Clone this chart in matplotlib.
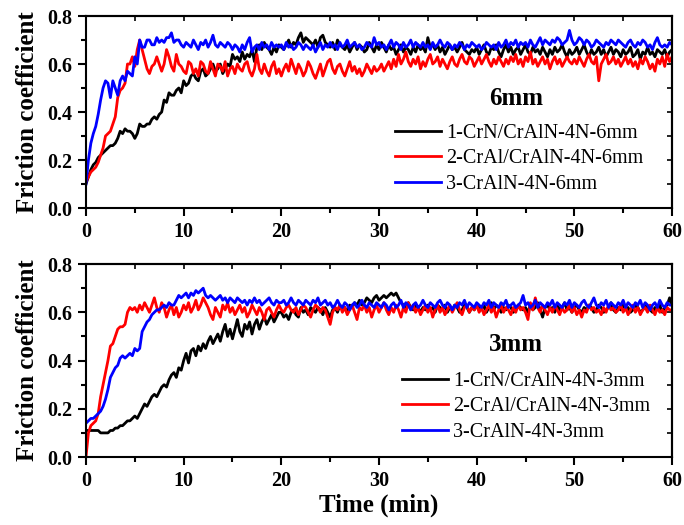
import numpy as np
import matplotlib
matplotlib.use("Agg")
import matplotlib.pyplot as plt
from matplotlib.ticker import MultipleLocator

plt.rcParams['font.family'] = ['Liberation Serif', 'DejaVu Serif']

# friction coefficient x100, sampled every 0.25 min from 0 to 60 min
top_crn = """
10 13 16 18 19 21 22 23 24 25 26 26 27 29 32 31 33 32 32 31
29 31 35 34 34 35 35 37 38 37 39 40 45 44 48 47 47 49 50 48
53 51 52 55 56 54 53 57 58 55 56 58 60 57 58 60 56 58 60 59
64 62 63 61 65 62 64 63 66 61 67 68 66 69 67 66 64 67 65 68
67 66 68 70 67 69 68 71 73 69 71 70 69 68 70 67 71 72 69 68
67 69 66 70 68 67 66 68 65 67 69 66 68 67 65 66 69 67 65 68
66 69 67 65 68 66 67 64 66 68 65 67 66 64 67 65 68 66 67 65
71 67 68 66 68 65 67 64 66 68 66 67 65 67 69 66 65 64 66 65
67 64 66 68 65 64 67 66 68 65 63 66 68 65 67 64 66 67 64 66
68 65 64 67 65 66 64 67 65 63 66 64 67 65 66 68 65 63 66 64
65 67 64 66 68 65 63 66 64 65 67 64 66 63 65 67 64 66 65 63
66 64 65 67 63 64 66 62 65 64 67 64 65 63 66 65 64 66 63 65
66
"""
top_cral = """
11 13 15 16 17 19 22 25 30 31 32 35 38 46 49 50 52 60 60 63
59 66 70 66 62 58 56 59 60 63 60 57 60 66 63 59 57 64 60 59
57 56 61 60 56 58 55 61 60 57 56 61 58 55 60 59 57 61 55 58
59 56 60 58 57 60 61 57 55 58 64 58 56 60 57 55 59 61 56 58
55 58 60 57 62 59 56 60 58 55 57 61 59 56 54 57 60 55 58 61
62 58 56 59 60 57 55 58 61 57 59 56 58 55 57 60 58 56 59 57
58 60 57 59 61 58 62 59 64 60 62 65 61 59 62 60 63 58 61 59
62 64 60 61 63 59 62 60 58 61 63 60 59 62 64 61 60 63 62 59
61 63 60 62 64 61 59 62 60 63 61 59 62 60 63 61 64 60 62 59
63 61 65 60 62 59 61 63 60 62 58 61 63 60 62 59 61 63 61 60
62 60 63 61 59 62 64 61 60 63 53 60 62 64 60 61 63 60 62 59
61 63 60 62 59 61 58 62 60 63 61 58 60 57 62 60 63 59 64 61
63
"""
top_cralN = """
10 20 27 31 34 39 45 50 53 52 46 53 50 47 53 55 53 57 56 55
63 60 70 67 67 70 70 68 68 71 69 70 69 71 71 73 69 70 70 68
67 69 68 67 70 68 66 69 68 70 67 69 72 68 67 69 68 67 69 68
66 68 67 65 68 66 69 71 65 67 68 66 69 67 68 66 69 67 68 67
68 66 69 67 68 66 67 69 68 66 68 67 66 68 65 67 69 66 68 67
69 67 68 66 69 67 68 70 67 68 69 67 68 66 67 69 68 67 71 68
69 67 68 66 68 70 67 69 68 66 69 67 68 70 67 69 68 67 69 67
68 66 69 67 68 70 68 67 69 68 66 68 67 69 68 66 68 67 69 68
67 68 66 67 69 68 67 68 66 69 67 68 70 67 69 68 70 67 69 68
69 67 70 68 67 69 71 68 70 69 68 70 69 71 70 68 69 70 74 70
68 69 71 70 68 70 69 67 68 70 69 68 67 69 68 70 69 68 70 69
68 67 69 70 68 67 69 68 70 69 67 68 66 69 71 68 67 68 67 69
68
"""
bot_crn = """
11 11 11 11 11 11 10 10 10 10 11 11 12 12 13 13 14 15 15 16
17 16 18 20 22 21 23 25 26 25 27 29 30 29 32 34 35 33 37 36
40 43 39 44 45 42 46 44 47 45 48 50 47 49 51 48 52 55 50 53
49 53 57 52 50 55 53 56 51 55 57 53 56 58 55 57 59 56 58 60
60 58 59 57 60 61 59 58 62 60 61 59 62 61 60 62 61 59 62 60
58 61 62 60 63 61 62 60 63 62 64 63 65 63 64 66 65 64 66 67
65 66 67 66 67 68 67 68 66 64 63 62 64 62 61 63 62 60 62 61
63 61 62 60 63 62 61 63 60 62 61 63 62 60 61 63 62 60 62 61
63 62 61 63 60 62 64 61 63 62 60 62 61 63 62 60 61 63 62 61
62 60 63 61 62 64 61 58 62 63 61 62 60 63 61 62 64 61 62 60
62 63 61 60 62 61 63 62 60 61 63 62 60 61 62 64 61 60 62 61
63 61 62 60 61 63 62 60 61 63 62 61 60 62 61 63 60 62 63 66
63
"""
bot_cral = """
0 10 13 14 15 18 25 30 35 40 46 47 50 53 54 54 55 60 62 61
62 60 63 61 64 62 60 63 66 62 60 64 62 58 61 63 59 62 58 60
63 61 64 60 62 65 61 63 66 64 62 59 57 62 60 58 63 61 64 60
62 59 61 63 60 62 58 60 63 61 59 62 60 57 61 62 60 58 61 63
61 60 62 63 61 60 62 59 61 63 62 60 58 61 63 62 60 62 61 58
55 60 62 61 63 60 62 59 61 63 60 57 62 61 63 60 62 58 61 63
60 62 64 61 59 62 60 63 61 58 62 60 64 61 63 60 62 59 61 63
60 62 58 61 63 60 62 59 61 63 60 62 64 61 59 62 63 60 62 61
63 60 62 59 61 63 60 62 58 61 63 60 62 61 59 62 60 63 61 62
60 57 64 61 66 62 60 63 61 59 62 60 63 61 59 62 60 61 63 60
62 59 61 58 61 60 63 61 62 60 61 59 62 60 63 61 62 60 61 63
60 62 59 61 63 60 62 59 61 62 60 63 61 59 62 60 61 59 62 61
61
"""
bot_cralN = """
14 15 16 16 17 18 19 21 24 28 33 35 37 38 41 42 41 42 43 42
45 44 45 52 54 56 57 59 60 61 61 62 63 62 64 63 63 65 67 66
67 68 66 68 67 69 68 69 70 67 66 67 66 65 66 67 65 66 64 66
65 64 66 65 64 65 63 65 64 66 64 65 63 64 65 66 64 63 65 64
64 65 63 64 66 64 63 65 64 63 65 64 63 65 64 66 63 64 65 63
64 62 63 65 63 62 64 63 61 63 64 62 63 65 63 62 64 63 62 64
63 62 64 63 61 63 64 62 63 65 62 64 63 61 63 64 62 63 65 63
62 64 63 62 64 65 63 62 64 63 61 63 62 64 63 65 62 64 63 62
64 63 62 64 63 65 62 64 63 62 64 63 65 62 63 64 62 63 64 67
63 64 62 63 65 62 64 63 62 64 63 65 62 64 63 62 64 63 65 62
64 63 62 64 65 63 62 64 66 63 62 64 63 65 62 64 63 62 64 63
65 62 64 63 62 64 63 65 62 64 63 61 63 64 62 65 63 62 64 63
63
"""

labels_6 = ['1-CrN/CrAlN-4N-6mm', '2-CrAl/CrAlN-4N-6mm', '3-CrAlN-4N-6mm']
labels_3 = ['1-CrN/CrAlN-4N-3mm', '2-CrAl/CrAlN-4N-3mm', '3-CrAlN-4N-3mm']
colors = ['black', 'red', 'blue']


def parse(s):
    return np.array(s.split(), dtype=float) / 100.0


fig = plt.figure(figsize=(6.84, 5.25), dpi=100)
ax1 = fig.add_axes([0.1257, 0.6038, 0.8568, 0.3657])
ax2 = fig.add_axes([0.1257, 0.1295, 0.8568, 0.3675])

panels = [
    (ax1, [top_crn, top_cral, top_cralN], labels_6, '6mm', (0.527, 0.44), 0.458),
    (ax2, [bot_crn, bot_cral, bot_cralN], labels_3, '3mm', (0.539, 0.442), 0.465),
]

for ax, series, labels, tag, legpos, tagy in panels:
    for s, lab, c in zip(series, labels, colors):
        y = parse(s)
        t = np.linspace(0, 60, len(y))
        ax.plot(t, y, color=c, lw=2.0, label=lab)
    ax.set_xlim(0, 60)
    ax.set_ylim(0, 0.8)
    ax.xaxis.set_major_locator(MultipleLocator(10))
    ax.xaxis.set_minor_locator(MultipleLocator(5))
    ax.yaxis.set_major_locator(MultipleLocator(0.2))
    ax.yaxis.set_minor_locator(MultipleLocator(0.1))
    ax.yaxis.set_major_formatter(matplotlib.ticker.FormatStrFormatter('%.1f'))
    ax.tick_params(which='major', direction='out', length=6, width=1.5,
                   labelsize=14.5, pad=4)
    ax.tick_params(which='minor', direction='out', length=3.5, width=1.5)
    for lbl in ax.get_xticklabels() + ax.get_yticklabels():
        lbl.set_fontweight('bold')
    for sp in ax.spines.values():
        sp.set_linewidth(1.5)
    # inward ticks on top and right
    top = ax.secondary_xaxis('top')
    top.xaxis.set_major_locator(MultipleLocator(10))
    top.xaxis.set_minor_locator(MultipleLocator(5))
    top.tick_params(which='both', direction='in', length=3.5, width=1.2, labeltop=False)
    right = ax.secondary_yaxis('right')
    right.yaxis.set_major_locator(MultipleLocator(0.2))
    right.yaxis.set_minor_locator(MultipleLocator(0.1))
    right.tick_params(which='both', direction='in', length=3.5, width=1.2, labelright=False)
    top.spines['top'].set_linewidth(1.5)
    right.spines['right'].set_linewidth(1.5)

    ax.set_ylabel('Friction coefficient', fontsize=18, fontweight='bold', labelpad=6)
    ax.text(44.0, tagy, tag, fontsize=18, fontweight='bold', ha='center', va='center')
    ax.legend(loc='upper left', bbox_to_anchor=legpos, frameon=False,
              prop={'size': 14.5}, handlelength=2.3, handletextpad=0.25,
              labelspacing=0.32, borderpad=0, borderaxespad=0)

ax2.set_xlabel('Time (min)', fontsize=18, fontweight='bold', labelpad=2)
fig.align_ylabels([ax1, ax2])

fig.savefig('out.png', dpi=100)
